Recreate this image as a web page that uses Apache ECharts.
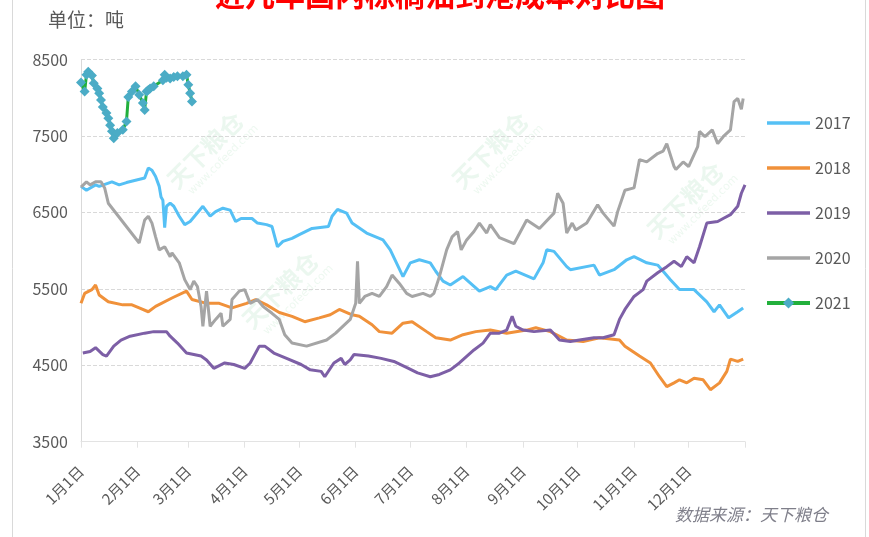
<!DOCTYPE html>
<html>
<head>
<meta charset="utf-8">
<title>近几年国内棕榈油到港成本对比图</title>
<script src="https://cdn.jsdelivr.net/npm/echarts@6/dist/echarts.min.js"></script>
<style>
  html, body { margin: 0; padding: 0; background: #fff; }
  #chart { width: 869px; height: 537px; }
</style>
</head>
<body>
<div id="chart"></div>
<script>
// 横轴：当年第几天（0 = 1月1日），纵轴：到港成本（元/吨）
const monthStarts = [0, 31, 59, 90, 120, 151, 181, 212, 243, 273, 304, 334]
const monthLabels = ['1月1日', '2月1日', '3月1日', '4月1日', '5月1日', '6月1日',
  '7月1日', '8月1日', '9月1日', '10月1日', '11月1日', '12月1日']
const yTicks = [3500, 4500, 5500, 6500, 7500, 8500]
const years = ['2017', '2018', '2019', '2020', '2021']

const days2017 = [0, 3, 8, 10, 17, 21, 25, 35, 37, 39, 41, 43, 44, 45, 46, 47, 49, 51, 54, 57,
  60, 67, 71, 74, 78, 82, 85, 88, 94, 97, 102, 105, 108, 111, 116, 120, 127, 136, 138, 141,
  146, 149, 157, 166, 170, 177, 181, 186, 192, 195, 199, 203, 210, 219, 225, 228, 234, 239, 249, 254,
  256, 260, 267, 269, 282, 285, 293, 300, 304, 311, 317, 320, 324, 329, 337, 344, 348, 351, 356, 361, 364]
const vals2017 = [6840, 6790, 6860, 6840, 6900, 6860, 6890, 6950, 7080, 7050, 6970, 6840, 6700, 6660, 6300, 6580, 6620, 6580, 6450, 6340,
  6380, 6580, 6450, 6510, 6555, 6530, 6380, 6420, 6420, 6360, 6340, 6315, 6050, 6120, 6160, 6210, 6290, 6315, 6450, 6540,
  6490, 6360, 6230, 6140, 6010, 5660, 5840, 5880, 5840, 5730, 5600, 5550, 5660, 5470, 5530, 5490, 5680, 5730, 5630, 5840,
  6010, 5990, 5790, 5750, 5810, 5680, 5750, 5880, 5920, 5840, 5810, 5730, 5620, 5490, 5490, 5330, 5200, 5290, 5120, 5200, 5250]

const days2018 = [0, 2, 6, 8, 10, 15, 23, 28, 32, 37, 41, 50, 58, 61, 69, 76, 83, 91, 96, 102,
  109, 116, 123, 131, 137, 142, 149, 153, 160, 164, 171, 177, 182, 190, 195, 203, 210, 217, 225, 234,
  245, 250, 258, 267, 276, 285, 296, 299, 307, 313, 318, 322, 326, 329, 333, 337, 342, 346, 351, 355, 357, 361, 364]
const vals2018 = [5310, 5440, 5490, 5550, 5420, 5330, 5290, 5290, 5250, 5200, 5270, 5380, 5470, 5360, 5310, 5310, 5250, 5310, 5360, 5290,
  5190, 5140, 5070, 5120, 5160, 5230, 5160, 5140, 5030, 4940, 4920, 5050, 5070, 4940, 4860, 4830, 4900, 4940, 4960, 4920,
  4960, 4990, 4940, 4830, 4810, 4860, 4830, 4750, 4620, 4530, 4350, 4220, 4270, 4310, 4270, 4330, 4310, 4180, 4270, 4420, 4580, 4550, 4580]

const days2019 = [1, 5, 8, 12, 14, 18, 22, 27, 35, 40, 47, 49, 53, 58, 66, 69, 73, 79, 84, 90,
  93, 98, 101, 106, 113, 121, 126, 132, 134, 139, 143, 145, 148, 150, 158, 165, 172, 180, 185, 192,
  197, 203, 208, 216, 221, 225, 230, 234, 237, 239, 243, 249, 258, 263, 269, 274, 282, 287, 293, 296,
  299, 304, 309, 311, 317, 322, 326, 330, 333, 337, 340, 344, 350, 353, 357, 361, 363, 365]
const vals2019 = [4660, 4680, 4730, 4640, 4620, 4750, 4830, 4880, 4920, 4940, 4940, 4880, 4790, 4660, 4620, 4570, 4460, 4530, 4510, 4460,
  4530, 4750, 4750, 4660, 4590, 4510, 4440, 4420, 4350, 4530, 4590, 4510, 4570, 4640, 4620, 4590, 4550, 4460, 4400, 4350,
  4380, 4440, 4530, 4700, 4790, 4920, 4920, 4960, 5140, 5010, 4960, 4940, 4960, 4830, 4810, 4830, 4860, 4860, 4900, 5100,
  5230, 5400, 5490, 5600, 5710, 5790, 5860, 5790, 5920, 5840, 6050, 6360, 6380, 6420, 6470, 6580, 6750, 6860]

const days2020 = [0, 3, 5, 8, 11, 13, 15, 32, 35, 37, 39, 41, 43, 46, 49, 50, 54, 57, 60, 62,
  64, 66, 67, 69, 71, 74, 77, 78, 82, 83, 87, 90, 93, 97, 100, 105, 109, 112, 116, 124,
  135, 140, 148, 151, 152, 153, 156, 160, 164, 168, 171, 175, 179, 182, 188, 192, 194, 197, 201, 204,
  207, 209, 212, 216, 219, 223, 225, 230, 238, 245, 252, 260, 262, 265, 267, 270, 272, 278, 284, 287,
  293, 295, 299, 304, 307, 311, 317, 320, 322, 326, 327, 331, 334, 339, 340, 343, 347, 350, 353, 357,
  359, 361, 363, 364]
const vals2020 = [6830, 6900, 6860, 6900, 6900, 6820, 6620, 6100, 6400, 6450, 6360, 6180, 6010, 6050, 5920, 5970, 5840, 5620, 5490, 5600,
  5530, 5270, 5010, 5470, 5010, 5100, 5180, 5010, 5100, 5360, 5470, 5490, 5310, 5360, 5270, 5180, 5100, 4900, 4790, 4750,
  4830, 4920, 5100, 5310, 5860, 5310, 5400, 5440, 5400, 5530, 5680, 5570, 5440, 5400, 5440, 5400, 5440, 5660, 6010, 6180,
  6250, 6010, 6140, 6250, 6360, 6230, 6340, 6170, 6090, 6400, 6290, 6490, 6750, 6620, 6230, 6360, 6270, 6360, 6600, 6490,
  6320, 6510, 6790, 6820, 7190, 7160, 7270, 7300, 7400, 7100, 7060, 7160, 7100, 7360, 7560, 7490, 7580, 7400, 7490, 7580,
  7950, 7990, 7850, 7990]

const days2021 = [0, 2, 3, 4, 6, 7, 9, 10, 11, 12, 14, 15, 16, 17, 18, 20, 23, 25, 26, 28,
  30, 32, 34, 35, 36, 37, 38, 40, 45, 46, 47, 49, 51, 53, 56, 58, 59, 60, 61]
const vals2021 = [8200, 8080, 8300, 8340, 8290, 8190, 8120, 8060, 7970, 7880, 7800, 7730, 7640, 7560, 7470, 7540, 7580, 7690, 8010, 8080,
  8150, 8040, 7930, 7840, 8080, 8100, 8120, 8150, 8230, 8300, 8260, 8250, 8270, 8280, 8280, 8300, 8170, 8060, 7950]

const colors = ['#55c0f5', '#f0913a', '#7d5fa6', '#a5a5a5', '#22b03c']
const lineIcon = 'path://M0,0H43V3.5H0Z'

function pairs(days, vals) {
  return days.map((d, i) => [d, vals[i]])
}

const chart = echarts.init(document.getElementById('chart'))

function lineSeries(name, data, color) {
  return {
    name: name,
    type: 'line',
    data: data,
    showSymbol: false,
    symbol: 'none',
    color: color,
    lineStyle: { color: color, width: 3 },
    emphasis: { disabled: true }
  }
}

function watermark(x, y) {
  return {
    type: 'group',
    x: x,
    y: y,
    rotation: Math.PI / 4,
    silent: true,
    children: [
      { type: 'text', style: { text: '天下粮仓', x: 0, y: 0, fill: 'rgba(90,190,120,0.12)',
        font: 'bold 24px "Noto Sans CJK SC"', textAlign: 'center', textVerticalAlign: 'middle' } },
      { type: 'text', style: { text: 'www.cofeed.com', x: 6, y: 20, fill: 'rgba(90,190,120,0.11)',
        font: '11px "DejaVu Sans"', textAlign: 'center', textVerticalAlign: 'middle' } }
    ]
  }
}

const option = {
  backgroundColor: '#ffffff',
  animation: false,
  textStyle: { fontFamily: '"Noto Sans CJK SC", "Noto Sans", sans-serif' },
  grid: { left: 81, right: 124, top: 59.5, bottom: 95.3 },
  legend: {
    data: [
      { name: '2017', icon: lineIcon },
      { name: '2018', icon: lineIcon },
      { name: '2019', icon: lineIcon },
      { name: '2020', icon: lineIcon },
      { name: '2021', lineStyle: { width: 4 } }
    ],
    orient: 'vertical',
    left: 765,
    top: 115,
    padding: 0,
    itemWidth: 43,
    itemHeight: 14,
    itemGap: 29,
    textStyle: { color: '#595959', fontSize: 16 },
    selectedMode: false
  },
  xAxis: {
    type: 'value',
    min: 0,
    max: 365,
    axisLine: { show: true, lineStyle: { color: '#e3e3e3', width: 1 } },
    axisTick: {
      show: true,
      length: 6,
      customValues: monthStarts.concat([365]),
      lineStyle: { color: '#e3e3e3' }
    },
    axisLabel: {
      customValues: monthStarts,
      rotate: 45,
      margin: 27,
      color: '#595959',
      fontSize: 15,
      formatter: function (v) {
        return monthLabels[monthStarts.indexOf(v)]
      }
    },
    splitLine: { show: false }
  },
  yAxis: {
    type: 'value',
    min: yTicks[0],
    max: yTicks[yTicks.length - 1],
    interval: 1000,
    axisLine: { show: true, lineStyle: { color: '#d9d9d9' } },
    axisTick: { show: false },
    axisLabel: { color: '#595959', fontSize: 16, margin: 13, formatter: v => String(v) },
    splitLine: { show: true, lineStyle: { color: '#d9d9d9', type: 'dashed', width: 1 } }
  },
  graphic: [
    { type: 'rect', shape: { x: 12.5, y: -5, width: 853, height: 550 }, silent: true,
      style: { fill: 'none', stroke: '#d9d9d9', lineWidth: 1 } },
    watermark(205, 150),
    watermark(490, 150),
    watermark(685, 200),
    watermark(280, 290),
    { type: 'text', x: 440, y: 10, silent: true,
      style: { text: '近几年国内棕榈油到港成本对比图', fill: '#ff0000', textAlign: 'center', textVerticalAlign: 'bottom',
        font: 'bold 30px "Noto Sans CJK SC"' } },
    { type: 'text', x: 48, y: 20, silent: true,
      style: { text: '单位：吨', fill: '#595959', textVerticalAlign: 'middle',
        font: '19px "Noto Sans CJK SC"' } },
    { type: 'text', x: 675, y: 515, silent: true,
      style: { text: '数据来源：天下粮仓', fill: '#7f7f8a', textVerticalAlign: 'middle',
        font: 'italic 17px "Noto Sans CJK SC"' } }
  ],
  series: [
    lineSeries('2017', pairs(days2017, vals2017), colors[0]),
    lineSeries('2018', pairs(days2018, vals2018), colors[1]),
    lineSeries('2019', pairs(days2019, vals2019), colors[2]),
    lineSeries('2020', pairs(days2020, vals2020), colors[3]),
    {
      name: '2021',
      type: 'line',
      data: pairs(days2021, vals2021),
      symbol: 'diamond',
      symbolSize: 10,
      showSymbol: true,
      itemStyle: { color: '#4bacc6' },
      lineStyle: { color: colors[4], width: 3 },
      emphasis: { disabled: true },
      z: 5
    }
  ]
}

chart.setOption(option)
</script>
</body>
</html>
